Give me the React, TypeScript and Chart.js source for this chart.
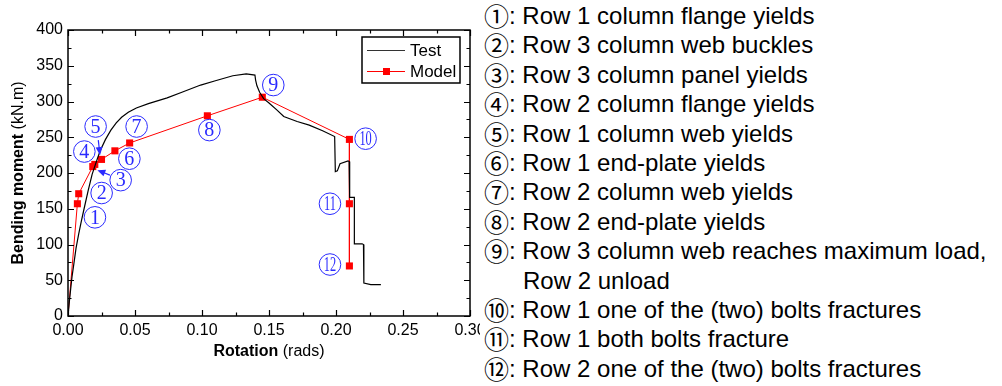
import React, { useEffect, useRef } from "react";
import { Chart, registerables } from "chart.js";
Chart.register(...registerables);

// ---------- data ----------
const testX = [0, 0.001, 0.002, 0.003, 0.004, 0.006, 0.008, 0.010, 0.012, 0.015, 0.018, 0.021, 0.024, 0.028, 0.032, 0.036, 0.040, 0.045, 0.051, 0.060, 0.074, 0.085, 0.099, 0.110, 0.123, 0.133, 0.1395, 0.1400, 0.1410, 0.1430, 0.1460, 0.1500, 0.1560, 0.1610, 0.1710, 0.1800, 0.1900, 0.1990, 0.1995, 0.2010, 0.2030, 0.2090, 0.2098, 0.2102, 0.2137, 0.2137, 0.2195, 0.2205, 0.2208, 0.2260, 0.2335];
const testY = [0, 20, 38, 55, 68, 95, 115, 133, 150, 175, 198, 215, 231, 247, 260, 270, 278, 285, 291, 297, 305, 313, 323, 329, 336, 338.5, 337, 330, 322, 313, 304, 298, 288, 279, 272, 267, 259, 251, 202, 203, 213, 217, 216, 166, 166, 101, 101, 100, 46, 44, 44];

const modelX = [0, 0.007, 0.008, 0.0185, 0.020, 0.025, 0.035, 0.046, 0.104, 0.145, 0.21, 0.21, 0.21];
const modelY = [0, 157, 171, 209, 212, 219, 231, 242, 280, 306, 247, 157, 70];

const labelText = ["1", "2", "3", "4", "5", "6", "7", "8", "9", "10", "11", "12"];
const labelX = [0.0201, 0.0251, 0.0393, 0.0122, 0.0206, 0.0458, 0.0512, 0.1055, 0.1532, 0.2221, 0.1955, 0.1955];
const labelY = [138, 172, 190, 230, 265, 220, 265, 260, 323, 248, 157, 72];

// arrows: from -> to (data coordinates)
const arrowFromX = [0.0226, 0.0313];
const arrowFromY = [246, 197];
const arrowToX = [0.0239, 0.0219];
const arrowToY = [225, 204];

const xTickValues = [0, 0.05, 0.1, 0.15, 0.2, 0.25, 0.3];
const xMinorValues = [0.025, 0.075, 0.125, 0.175, 0.225, 0.275];
const yTickValues = [0, 50, 100, 150, 200, 250, 300, 350, 400];
const yMinorValues = [25, 75, 125, 175, 225, 275, 325, 375];

const noteCircles = ["①", "②", "③", "④", "⑤", "⑥", "⑦", "⑧", "⑨", "", "⑩", "⑪", "⑫"];
const noteTexts = [
  "Row 1 column flange yields",
  "Row 3 column web buckles",
  "Row 3 column panel yields",
  "Row 2 column flange yields",
  "Row 1 column web yields",
  "Row 1 end-plate yields",
  "Row 2 column web yields",
  "Row 2 end-plate yields",
  "Row 3 column web reaches maximum load,",
  "Row 2 unload",
  "Row 1 one of the (two) bolts fractures",
  "Row 1 both bolts fracture",
  "Row 2 one of the (two) bolts fractures",
];

const BLUE = "#2a2aff";
const FONT = '"Liberation Sans", Arial, sans-serif';

const overlayPlugin = {
  id: "overlay",
  afterDatasetsDraw(chart: any) {
    const ctx = chart.ctx;
    const xs = chart.scales.x;
    const ys = chart.scales.y;
    for (let i = 0; i < arrowFromX.length; i++) {
      const x0 = xs.getPixelForValue(arrowFromX[i]);
      const y0 = ys.getPixelForValue(arrowFromY[i]);
      const x1 = xs.getPixelForValue(arrowToX[i]);
      const y1 = ys.getPixelForValue(arrowToY[i]);
      const ang = Math.atan2(y1 - y0, x1 - x0);
      ctx.save();
      ctx.strokeStyle = BLUE;
      ctx.fillStyle = BLUE;
      ctx.lineWidth = 1.2;
      ctx.beginPath();
      ctx.moveTo(x0, y0);
      ctx.lineTo(x1 - 5 * Math.cos(ang), y1 - 5 * Math.sin(ang));
      ctx.stroke();
      ctx.beginPath();
      ctx.moveTo(x1, y1);
      ctx.lineTo(x1 - 8 * Math.cos(ang) + 3.5 * Math.sin(ang), y1 - 8 * Math.sin(ang) - 3.5 * Math.cos(ang));
      ctx.lineTo(x1 - 8 * Math.cos(ang) - 3.5 * Math.sin(ang), y1 - 8 * Math.sin(ang) + 3.5 * Math.cos(ang));
      ctx.closePath();
      ctx.fill();
      ctx.restore();
    }
    for (let i = 0; i < labelText.length; i++) {
      const x = xs.getPixelForValue(labelX[i]);
      const y = ys.getPixelForValue(labelY[i]);
      ctx.save();
      ctx.strokeStyle = BLUE;
      ctx.lineWidth = 1;
      ctx.beginPath();
      ctx.arc(x, y, 10.8, 0, Math.PI * 2);
      ctx.stroke();
      ctx.fillStyle = BLUE;
      ctx.font = '20px "Liberation Serif", "DejaVu Serif", serif';
      ctx.textAlign = "center";
      ctx.textBaseline = "middle";
      ctx.translate(x, y + 1);
      if (labelText[i].length > 1) ctx.scale(0.62, 1);
      ctx.fillText(labelText[i], 0, 0);
      ctx.restore();
    }
  },
  afterDraw(chart: any) {
    const ctx = chart.ctx;
    const xs = chart.scales.x;
    const ys = chart.scales.y;
    const a = chart.chartArea;
    ctx.save();
    ctx.strokeStyle = "#000";
    ctx.lineWidth = 1.5;
    ctx.strokeRect(a.left, a.top, a.right - a.left, a.bottom - a.top);
    ctx.lineWidth = 1.2;
    ctx.beginPath();
    const drawX = (vals: number[], len: number) => {
      vals.forEach((v) => {
        const px = Math.round(xs.getPixelForValue(v)) + 0.5;
        ctx.moveTo(px, a.bottom);
        ctx.lineTo(px, a.bottom - len);
        ctx.moveTo(px, a.top);
        ctx.lineTo(px, a.top + len);
      });
    };
    const drawY = (vals: number[], len: number) => {
      vals.forEach((v) => {
        const py = Math.round(ys.getPixelForValue(v)) + 0.5;
        ctx.moveTo(a.left, py);
        ctx.lineTo(a.left + len, py);
        ctx.moveTo(a.right, py);
        ctx.lineTo(a.right - len, py);
      });
    };
    drawX(xTickValues, 6);
    drawX(xMinorValues, 3.5);
    drawY(yTickValues, 6);
    drawY(yMinorValues, 3.5);
    ctx.stroke();

    const drawTitle = (bold: string, normal: string, cx: number, cy: number, rot: number) => {
      ctx.save();
      ctx.translate(cx, cy);
      ctx.rotate(rot);
      ctx.fillStyle = "#000";
      ctx.textBaseline = "middle";
      ctx.textAlign = "left";
      ctx.font = "bold 16px " + FONT;
      const wb = ctx.measureText(bold).width;
      ctx.font = "16px " + FONT;
      const wn = ctx.measureText(normal).width;
      const start = -(wb + wn) / 2;
      ctx.font = "bold 16px " + FONT;
      ctx.fillText(bold, start, 0);
      ctx.font = "16px " + FONT;
      ctx.fillText(normal, start + wb, 0);
      ctx.restore();
    };
    drawTitle("Rotation", " (rads)", (a.left + a.right) / 2, 352, 0);
    drawTitle("Bending moment", " (kN.m)", 19, (a.top + a.bottom) / 2, -Math.PI / 2);

    ctx.lineWidth = 1.5;
    ctx.strokeStyle = "#000";
    ctx.strokeRect(362, 37, 98, 46);
    ctx.lineWidth = 1.2;
    ctx.beginPath();
    ctx.strokeStyle = "#333";
    ctx.moveTo(367, 50.5);
    ctx.lineTo(405, 50.5);
    ctx.stroke();
    ctx.beginPath();
    ctx.strokeStyle = "#ff0000";
    ctx.lineWidth = 1;
    ctx.moveTo(367, 71.5);
    ctx.lineTo(405, 71.5);
    ctx.stroke();
    ctx.fillStyle = "#ff0000";
    ctx.fillRect(383, 68, 7, 7);
    ctx.fillStyle = "#000";
    ctx.font = "17px " + FONT;
    ctx.textAlign = "left";
    ctx.textBaseline = "middle";
    ctx.fillText("Test", 410, 51);
    ctx.fillText("Model", 410, 72);
    ctx.restore();
  },
};

export default function App() {
  const canvasRef = useRef<HTMLCanvasElement | null>(null);

  useEffect(() => {
    if (!canvasRef.current) return;
    const chart = new Chart(canvasRef.current, {
      type: "line",
      data: {
        datasets: [
          {
            label: "Test",
            data: testX.map((x, i) => ({ x, y: testY[i] })),
            borderColor: "#000",
            borderWidth: 1.2,
            pointRadius: 0,
            tension: 0,
            fill: false,
          },
          {
            label: "Model",
            data: modelX.map((x, i) => ({ x, y: modelY[i] })),
            borderColor: "#ff0000",
            backgroundColor: "#ff0000",
            borderWidth: 1,
            pointStyle: "rect",
            pointRadius: modelX.map((_, i) => (i === 0 ? 0 : 5)),
            pointBorderWidth: 0,
            tension: 0,
            fill: false,
          },
        ],
      },
      options: {
        responsive: false,
        animation: false,
        layout: { padding: { left: 0, right: 30, top: 30, bottom: 0 } },
        plugins: { legend: { display: false }, tooltip: { enabled: false } },
        scales: {
          x: {
            type: "linear",
            min: 0,
            max: 0.3,
            grid: { display: false, drawTicks: false },
            border: { display: false },
            ticks: {
              padding: 5,
              color: "#000",
              font: { size: 16, family: FONT },
              callback: (v: any) => Number(v).toFixed(2),
            },
            afterBuildTicks: (s: any) => {
              s.ticks = xTickValues.map((v) => ({ value: v }));
            },
            afterFit: (s: any) => {
              s.height = 70;
            },
          },
          y: {
            type: "linear",
            min: 0,
            max: 400,
            grid: { display: false, drawTicks: false },
            border: { display: false },
            ticks: {
              padding: 5,
              color: "#000",
              font: { size: 16, family: FONT },
            },
            afterBuildTicks: (s: any) => {
              s.ticks = yTickValues.map((v) => ({ value: v }));
            },
            afterFit: (s: any) => {
              s.width = 68;
            },
          },
        },
      } as any,
      plugins: [overlayPlugin],
    });
    return () => chart.destroy();
  }, []);

  return (
    <div style={{ position: "absolute", left: 0, top: 0, width: 1002, height: 386, background: "#fff" }}>
      <div style={{ position: "absolute", left: 0, top: 0, width: 480, height: 386, overflow: "hidden" }}>
        <canvas ref={canvasRef} width={500} height={386} style={{ display: "block" }} />
      </div>
      {noteTexts.map((t, i) => {
        const isCont = noteCircles[i] === "";
        return (
          <div
            key={i}
            style={{
              position: "absolute",
              left: isCont ? 523 : 484,
              top: 1 + i * 29.4,
              height: 29.4,
              lineHeight: "29.4px",
              fontSize: 24,
              fontFamily: FONT,
              color: "#000",
              whiteSpace: "nowrap",
            }}
          >
            {isCont ? t : (
              <>
                <span
                  style={{
                    display: "inline-block",
                    width: 25,
                    fontSize: 25,
                    lineHeight: "29.4px",
                    verticalAlign: "top",
                    fontFamily: '"Noto Sans CJK JP", "DejaVu Sans", sans-serif',
                  }}
                >
                  {noteCircles[i]}
                </span>
                {": " + t}
              </>
            )}
          </div>
        );
      })}
    </div>
  );
}
